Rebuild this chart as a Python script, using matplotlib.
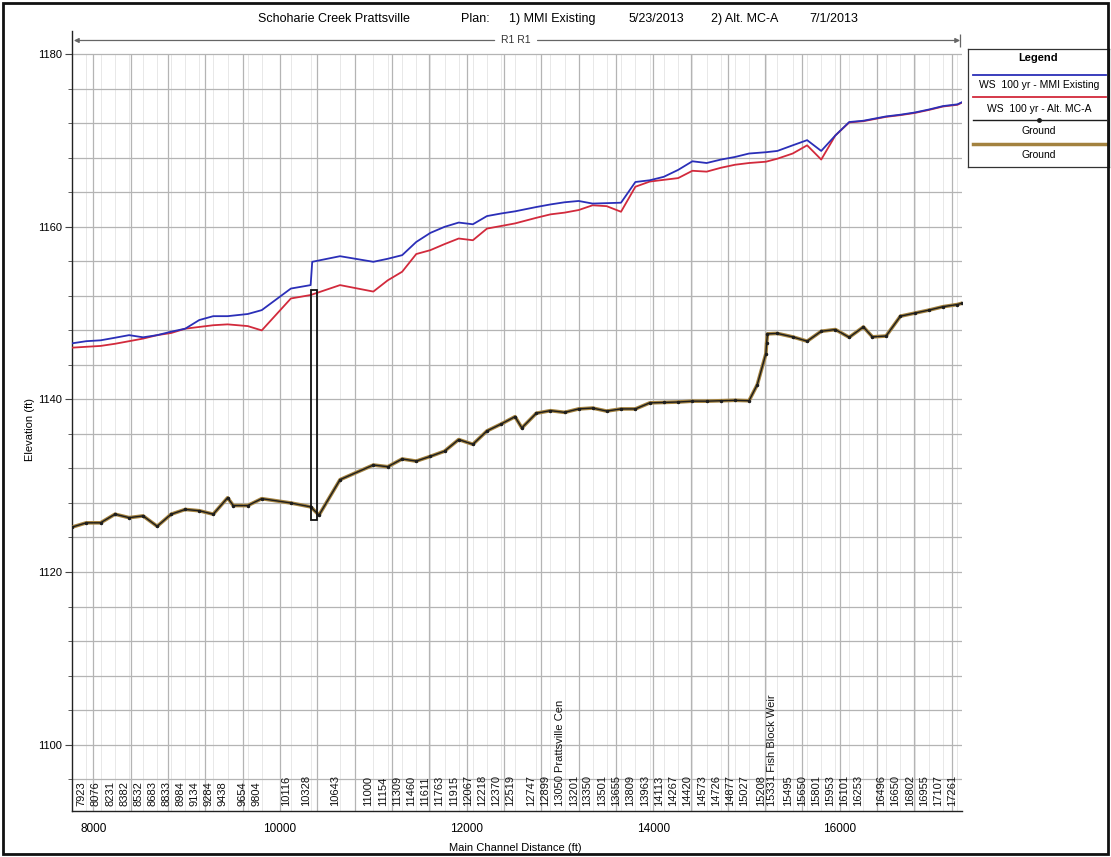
import matplotlib
matplotlib.use("Agg")
import matplotlib.pyplot as plt
from matplotlib.patches import Rectangle
import numpy as np

plt.rcParams['font.family'] = ['Liberation Sans', 'DejaVu Sans']

# Cross-section river stations (main channel distance, ft) and their labels
xs_dist = [7923, 8076, 8231, 8382, 8532, 8683, 8833, 8984, 9134, 9284, 9438,
           9654, 9804, 10116, 10328, 10643, 11000, 11154, 11309, 11460, 11611,
           11763, 11915, 12067, 12218, 12370, 12519, 12747, 12899, 13050, 13201,
           13350, 13501, 13655, 13809, 13963, 14113, 14267, 14420, 14573, 14726,
           14877, 15027, 15208, 15331, 15495, 15650, 15801, 15953, 16101, 16253,
           16496, 16650, 16802, 16955, 17107, 17261]
xs_label = ['7923', '8076', '8231', '8382', '8532', '8683', '8833', '8984', '9134',
            '9284', '9438', '9654', '9804', '10116', '10328', '10643', '11000',
            '11154', '11309', '11460', '11611', '11763', '11915', '12067', '12218',
            '12370', '12519', '12747', '12899', '13050 Prattsville Cen', '13201',
            '13350', '13501', '13655', '13809', '13963', '14113', '14267', '14420',
            '14573', '14726', '14877', '15027', '15208', '15331 Fish Block Weir',
            '15495', '15650', '15801', '15953', '16101', '16253', '16496', '16650',
            '16802', '16955', '17107', '17261']

# WS 100 yr - MMI Existing
ws_exist_dist = [7770, 7923, 8076, 8231, 8382, 8532, 8683, 8833, 8984, 9134, 9284,
                 9438, 9654, 9804, 10116, 10328, 10345, 10643, 11000, 11154, 11309,
                 11460, 11611, 11763, 11915, 12067, 12218, 12370, 12519, 12747,
                 12899, 13050, 13201, 13350, 13501, 13655, 13809, 13963, 14113,
                 14267, 14420, 14573, 14726, 14877, 15027, 15208, 15331, 15495,
                 15650, 15801, 15953, 16101, 16253, 16496, 16650, 16802, 16955,
                 17107, 17261, 17310]
ws_exist = [1146.50, 1146.75, 1146.85, 1147.15, 1147.45, 1147.20, 1147.45, 1147.85,
            1148.20, 1149.20, 1149.65, 1149.65, 1149.90, 1150.35, 1152.85, 1153.25,
            1155.95, 1156.60, 1155.95, 1156.30, 1156.72, 1158.25, 1159.30, 1160.00,
            1160.50, 1160.30, 1161.25, 1161.55, 1161.80, 1162.30, 1162.60, 1162.85,
            1163.00, 1162.70, 1162.75, 1162.80, 1165.20, 1165.40, 1165.80, 1166.60,
            1167.60, 1167.40, 1167.80, 1168.10, 1168.50, 1168.65, 1168.80, 1169.45,
            1170.05, 1168.80, 1170.60, 1172.15, 1172.30, 1172.80, 1173.00, 1173.25,
            1173.60, 1174.00, 1174.20, 1174.45]

# WS 100 yr - Alt. MC-A
ws_alt_dist = [7770, 7923, 8076, 8231, 8382, 8532, 8683, 8833, 8984, 9134, 9284,
               9438, 9654, 9804, 10116, 10328, 10643, 11000, 11154, 11309, 11460,
               11611, 11763, 11915, 12067, 12218, 12370, 12519, 12747, 12899,
               13050, 13201, 13350, 13501, 13655, 13809, 13963, 14113, 14267,
               14420, 14573, 14726, 14877, 15027, 15208, 15331, 15495, 15650,
               15801, 15953, 16101, 16253, 16496, 16650, 16802, 16955, 17107,
               17261, 17310]
ws_alt = [1146.00, 1146.10, 1146.20, 1146.45, 1146.75, 1147.05, 1147.45, 1147.70,
          1148.20, 1148.40, 1148.60, 1148.70, 1148.50, 1148.00, 1151.70, 1152.10,
          1153.25, 1152.50, 1153.80, 1154.80, 1156.85, 1157.30, 1158.00, 1158.65,
          1158.45, 1159.80, 1160.10, 1160.40, 1161.05, 1161.45, 1161.65, 1161.95,
          1162.50, 1162.40, 1161.75, 1164.65, 1165.25, 1165.45, 1165.65, 1166.50,
          1166.40, 1166.85, 1167.20, 1167.40, 1167.55, 1167.90, 1168.50, 1169.45,
          1167.80, 1170.60, 1172.10, 1172.25, 1172.75, 1172.95, 1173.20, 1173.55,
          1173.95, 1174.15, 1174.40]

# Ground (channel invert) profile
ground_dist = [7770, 7923, 8076, 8231, 8382, 8532, 8683, 8833, 8984, 9134, 9284,
               9438, 9499, 9654, 9804, 10116, 10328, 10418, 10643, 11000, 11154,
               11309, 11460, 11611, 11763, 11915, 12067, 12218, 12370, 12519,
               12592, 12747, 12899, 13050, 13201, 13350, 13501, 13655, 13809,
               13963, 14113, 14267, 14420, 14573, 14726, 14877, 15027, 15115,
               15208, 15215, 15225, 15331, 15495, 15650, 15801, 15953, 16101,
               16253, 16350, 16496, 16650, 16802, 16955, 17107, 17261, 17310]
ground_elev = [1125.20, 1125.70, 1125.70, 1126.70, 1126.30, 1126.50, 1125.30,
               1126.70, 1127.25, 1127.10, 1126.70, 1128.60, 1127.70, 1127.70,
               1128.50, 1128.00, 1127.55, 1126.60, 1130.70, 1132.40, 1132.20,
               1133.10, 1132.85, 1133.40, 1134.00, 1135.35, 1134.80, 1136.35,
               1137.15, 1138.00, 1136.70, 1138.40, 1138.70, 1138.50, 1138.90,
               1139.00, 1138.65, 1138.90, 1138.90, 1139.60, 1139.65, 1139.70,
               1139.80, 1139.80, 1139.85, 1139.90, 1139.85, 1141.70, 1145.30,
               1146.50, 1147.60, 1147.65, 1147.25, 1146.75, 1147.90, 1148.10,
               1147.20, 1148.40, 1147.25, 1147.35, 1149.65, 1150.00, 1150.35,
               1150.75, 1151.00, 1151.15]

# Bridge opening outline (upstream/downstream faces, low/high elevation)
bridge_dist = [10335, 10400]
bridge_elev = [1126.0, 1152.7]

x_min, x_max = 7770, 17310
y_min, y_max = 1092.3, 1182.7

W, H = 1111, 857
fig = plt.figure(figsize=(W / 100, H / 100), dpi=100)
fig.patch.set_facecolor('white')

ax = fig.add_axes([72 / W, (H - 811) / H, (962 - 72) / W, (811 - 31) / H])
ax.set_xlim(x_min, x_max)
ax.set_ylim(y_min, y_max)

# grid
ax.hlines(np.arange(1096, 1181, 4), x_min, x_max, color='#b4b4b4', lw=0.9, zorder=1)
ax.vlines(np.arange(8000, 17300, 400), y_min, 1180, color='#b4b4b4', lw=0.9, zorder=1)
ax.vlines(xs_dist, y_min, 1180, color='#e4e4e4', lw=0.6, zorder=0.5)

# profiles
ax.plot(ground_dist, ground_elev, color='#a3823f', lw=2.6, zorder=3,
        solid_joinstyle='round')
ax.plot(ground_dist, ground_elev, color='#1e1e1e', lw=1.0, marker='o', ms=1.5,
        zorder=4)
ax.plot(ws_alt_dist, ws_alt, color='#d22a3c', lw=1.3, zorder=5)
ax.plot(ws_exist_dist, ws_exist, color='#2b2fb8', lw=1.3, zorder=5)

# bridge outline
ax.add_patch(Rectangle((bridge_dist[0], bridge_elev[0]),
                       bridge_dist[1] - bridge_dist[0],
                       bridge_elev[1] - bridge_elev[0],
                       fill=False, ec='#111111', lw=1.3, zorder=6))

# cross-section labels along the bottom
for d, lab in zip(xs_dist, xs_label):
    ax.text(d, y_min + 0.55, lab, rotation=90, ha='right', va='bottom',
            fontsize=8, color='#111111', zorder=7)

# reach arrow
y_arrow = 1181.6
ax.annotate('', xy=(x_min + 20, y_arrow), xytext=(12300, y_arrow),
            arrowprops=dict(arrowstyle='-|>', color='#666666', lw=0.9,
                            mutation_scale=7, shrinkA=0, shrinkB=0))
ax.annotate('', xy=(17290, y_arrow), xytext=(12760, y_arrow),
            arrowprops=dict(arrowstyle='-|>', color='#666666', lw=0.9,
                            mutation_scale=7, shrinkA=0, shrinkB=0))
ax.vlines([17290], y_arrow - 0.8, y_arrow + 0.8, color='#666666', lw=0.9)
ax.text(12530, y_arrow, 'R1 R1', ha='center', va='center', fontsize=7.5,
        color='#333333')

# axes styling
for s in ['top', 'right']:
    ax.spines[s].set_visible(False)
for s in ['left', 'bottom']:
    ax.spines[s].set_color('#222222')
    ax.spines[s].set_linewidth(1.0)

ax.set_yticks(np.arange(1100, 1181, 20))
ax.set_yticks(np.arange(1096, 1181, 4), minor=True)
ax.tick_params(axis='y', which='major', length=5, labelsize=8, pad=2,
               color='#444444')
ax.tick_params(axis='y', which='minor', length=3, color='#444444')
ax.set_xticks(np.arange(8000, 16001, 2000))
ax.tick_params(axis='x', length=0, pad=9, labelsize=8.5)

fig.text(30 / W, 1 - 430 / H, 'Elevation (ft)', rotation=90, ha='center',
         va='center', fontsize=8)
fig.text(515 / W, 1 - 848 / H, 'Main Channel Distance (ft)', ha='center',
         va='center', fontsize=8)

# title
title_parts = [(258, 'Schoharie Creek Prattsville'), (461, 'Plan:'),
               (509, '1) MMI Existing'), (629, '5/23/2013'),
               (711, '2) Alt. MC-A'), (809, '7/1/2013')]
for px, txt in title_parts:
    fig.text(px / W, 1 - 19 / H, txt, ha='left', va='center', fontsize=9)

# legend panel
lg = fig.add_axes([968 / W, (H - 167) / H, 141 / W, 118 / H])
lg.set_xlim(968, 1109)
lg.set_ylim(167, 49)
lg.set_xticks([])
lg.set_yticks([])
for s in lg.spines.values():
    s.set_color('#333333')
    s.set_linewidth(0.9)
lg.text(1038, 58, 'Legend', ha='center', va='center', fontsize=8,
        fontweight='bold')
lg.plot([973, 1106], [74.5, 74.5], color='#2b2fb8', lw=1.3)
lg.text(1039, 85, 'WS  100 yr - MMI Existing', ha='center', va='center', fontsize=7.5)
lg.plot([973, 1106], [97, 97], color='#d22a3c', lw=1.3)
lg.text(1039, 109, 'WS  100 yr - Alt. MC-A', ha='center', va='center', fontsize=7.5)
lg.plot([973, 1106], [120, 120], color='#1e1e1e', lw=1.0)
lg.plot([1039], [120], color='#1e1e1e', marker='o', ms=2.5)
lg.text(1039, 131, 'Ground', ha='center', va='center', fontsize=7.5)
lg.plot([973, 1106], [144, 144], color='#a3823f', lw=2.5)
lg.text(1039, 154.5, 'Ground', ha='center', va='center', fontsize=7.5)

# outer frame
fig.add_artist(Rectangle((3 / W, 3 / H), (W - 6) / W, (H - 6) / H,
                         transform=fig.transFigure, fill=False,
                         ec='#111111', lw=2.0))

fig.savefig('out.png', dpi=100)
